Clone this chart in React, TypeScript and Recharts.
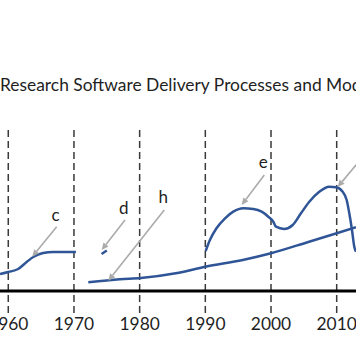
import React from "react";
import {
  ComposedChart,
  Line,
  XAxis,
  YAxis,
  ReferenceLine,
  ReferenceDot,
} from "recharts";

// ---------- data ----------
const titleText = "Research Software Delivery Processes and Models";

const decadeTicks = [1960, 1970, 1980, 1990, 2000, 2010];

const curveCYears = [1958.74, 1960, 1961.5, 1962.8, 1963.8, 1965.3, 1966.85, 1970.3];
const curveCValues = [17, 19, 22, 29, 34, 38, 39, 39];

const curveDYears = [1974.2, 1975.0];
const curveDValues = [37, 40.5];

const curveHYears = [1972.18, 1977.0, 1980.2, 1985.5, 1990.0, 1995.7, 2000.0, 2005.8, 2010.0, 2012.94];
const curveHValues = [8.7, 11.7, 13, 17.7, 24.3, 31, 37.7, 49.3, 57.7, 63.7];

const curveEYears = [
  1990.05, 1990.7, 1991.7, 1993.0, 1994.26, 1995.78, 1997.3, 1998.58, 1999.59, 2000.35,
  2000.76, 2002.0, 2003.3, 2004.56, 2005.83, 2007.35, 2008.87, 2009.89, 2010.91, 2011.52,
  2011.92, 2012.33, 2012.68, 2012.94,
];
const curveEValues = [
  40, 51, 62.7, 72.7, 79.3, 82.7, 82, 79.3, 74.3, 69.3,
  64.3, 62, 66, 77.7, 89.3, 99.3, 104.3, 103.7, 99.3, 91,
  77.7, 61, 44.3, 39.3,
];

// annotation arrows (tail -> head) and labels
const arrowFromYears = [1967.37, 1977.77, 1983.75, 1998.98, 2013.96];
const arrowFromValues = [64.3, 71, 81, 116, 134];
const arrowToYears = [1963.65, 1974.22, 1975.23, 1995.53, 2010.15];
const arrowToValues = [34.3, 41, 10.3, 86, 104];

const labelTexts = ["c", "d", "h", "e"];
const labelYears = [1967.2, 1977.6, 1983.6, 1998.8];
const labelValues = [70.3, 76.7, 88.3, 122.7];

const xDomain = [1958.74, 2012.94];
const yDomain = [0, 161];
const dashBottom = -22;

// ---------- build ----------
const zip = (xs: number[], ys: number[]) => xs.map((x, i) => ({ year: x, v: ys[i] }));
const seriesC = zip(curveCYears, curveCValues);
const seriesD = zip(curveDYears, curveDValues);
const seriesH = zip(curveHYears, curveHValues);
const seriesE = zip(curveEYears, curveEValues);

const FONT = "Lato, 'Open Sans', sans-serif";
const LINE_COLOR = "#2F5597";
const TEXT_COLOR = "#1F1F1F";

const ArrowShape = (p: any) => {
  const { x1, y1, x2, y2 } = p;
  if ([x1, y1, x2, y2].some((v) => typeof v !== "number" || isNaN(v))) return null;
  const ang = Math.atan2(y2 - y1, x2 - x1);
  const L = 7;
  const W = 3.2;
  const bx = x2 - L * Math.cos(ang);
  const by = y2 - L * Math.sin(ang);
  const px = -Math.sin(ang);
  const py = Math.cos(ang);
  const pts = `${x2},${y2} ${bx + W * px},${by + W * py} ${bx - W * px},${by - W * py}`;
  return (
    <g>
      <line x1={x1} y1={y1} x2={bx} y2={by} stroke="#ABABAB" strokeWidth={1.6} />
      <polygon points={pts} fill="#ABABAB" />
    </g>
  );
};

const makeLabel = (text: string) => (p: any) => (
  <text
    x={p.cx}
    y={p.cy}
    textAnchor="middle"
    fontFamily={FONT}
    fontSize={17}
    fill={TEXT_COLOR}
  >
    {text}
  </text>
);

const Tick = (p: any) => (
  <text
    x={p.x}
    y={p.y + 39.2}
    textAnchor="middle"
    fontFamily={FONT}
    fontSize={17.4}
    fill={TEXT_COLOR}
  >
    {p.payload.value}
  </text>
);

export default function App() {
  return (
    <div style={{ position: "absolute", left: 0, top: 0, width: 356, height: 364, background: "#fff" }}>
      <svg
        width={356}
        height={364}
        style={{ position: "absolute", left: 0, top: 0, pointerEvents: "none" }}
      >
        <text x={0} y={91.3} fontFamily={FONT} fontSize={17.4} fill={TEXT_COLOR}>
          {titleText}
        </text>
      </svg>
      <div style={{ position: "absolute", left: 0, top: 0 }}>
        <ComposedChart
          width={356}
          height={364}
          margin={{ top: 130, right: 0, bottom: 43, left: 0 }}
        >
          <XAxis
            type="number"
            dataKey="year"
            domain={xDomain}
            allowDataOverflow
            ticks={decadeTicks}
            tickSize={0}
            tickMargin={0}
            tickLine={false}
            height={30}
            axisLine={{ stroke: "#000", strokeWidth: 3 }}
            tick={<Tick />}
            interval={0}
          />
          <YAxis type="number" domain={yDomain} allowDataOverflow hide />
          {decadeTicks.map((yr) => (
            <ReferenceLine
              key={"d" + yr}
              segment={[
                { x: yr, y: dashBottom },
                { x: yr, y: yDomain[1] },
              ]}
              ifOverflow="visible"
              stroke="#3A3A3A"
              strokeWidth={1.5}
              strokeDasharray="7 4"
            />
          ))}
          <Line data={seriesC} dataKey="v" type="monotone" stroke={LINE_COLOR} strokeWidth={2.5} dot={false} isAnimationActive={false} />
          <Line data={seriesD} dataKey="v" type="monotone" stroke={LINE_COLOR} strokeWidth={2.5} dot={false} isAnimationActive={false} />
          <Line data={seriesH} dataKey="v" type="monotone" stroke={LINE_COLOR} strokeWidth={2.5} dot={false} isAnimationActive={false} />
          <Line data={seriesE} dataKey="v" type="monotone" stroke={LINE_COLOR} strokeWidth={2.5} dot={false} isAnimationActive={false} />
          {arrowFromYears.map((fy, i) => (
            <ReferenceLine
              key={"a" + i}
              segment={[
                { x: fy, y: arrowFromValues[i] },
                { x: arrowToYears[i], y: arrowToValues[i] },
              ]}
              ifOverflow="visible"
              shape={ArrowShape}
            />
          ))}
          {labelTexts.map((t, i) => (
            <ReferenceDot
              key={"l" + i}
              x={labelYears[i]}
              y={labelValues[i]}
              r={0}
              ifOverflow="visible"
              shape={makeLabel(t)}
            />
          ))}
        </ComposedChart>
      </div>
    </div>
  );
}
